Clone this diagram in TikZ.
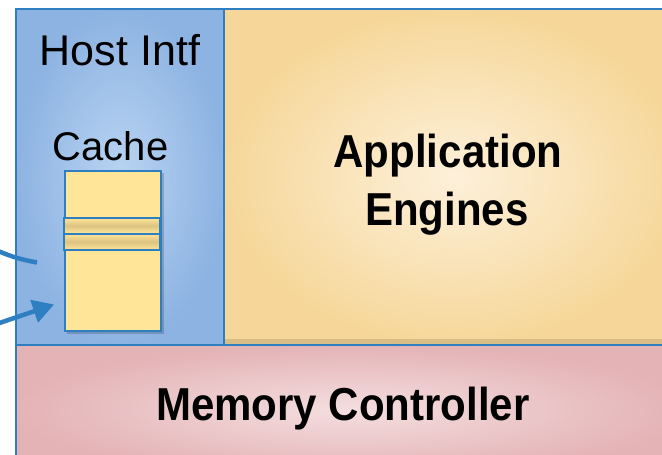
\documentclass[tikz,border=0pt]{standalone}
\usepackage{fontspec}
\setmainfont{Liberation Sans}
\usetikzlibrary{arrows.meta}
\definecolor{edge}{HTML}{2E7FC1}
\definecolor{hostout}{HTML}{8DB3E2}
\definecolor{hostin}{HTML}{B9D4F2}
\definecolor{appout}{HTML}{F6D799}
\definecolor{appin}{HTML}{FDF0DA}
\definecolor{memout}{HTML}{E4B3B6}
\definecolor{memin}{HTML}{F4DEDF}
\definecolor{cachefill}{HTML}{FFE597}
\definecolor{cachedark}{HTML}{DCC382}
\newcommand{\tallbold}[1]{\scalebox{1}[1.1]{\bfseries #1}}
\begin{document}
\begin{tikzpicture}[x=1pt,y=-1pt,
  block/.style={draw=edge, line width=2pt, anchor=north west,
    inner sep=0pt, outer sep=0pt},
  cachebox/.style={draw=edge, line width=2pt, fill=cachefill},
  band/.style={draw=edge, line width=2pt, top color=cachefill,
    bottom color=cachefill, middle color=cachedark},
  lbl/.style={anchor=base, font=\fontsize{42}{42}\selectfont},
  boldlbl/.style={anchor=base, font=\fontsize{42}{42}\selectfont},
  conn/.style={draw=edge, line width=4.5pt}]
\useasboundingbox (0,0) rectangle (662,455);
\clip (0,0) rectangle (662,455);
\fill[white] (0,0) rectangle (662,455);

% three main blocks
\node[block, minimum width=208pt, minimum height=336pt,
  inner color=hostin, outer color=hostout, shade] (host) at (16,9) {};
\node[block, minimum width=460pt, minimum height=336pt,
  inner color=appin, outer color=appout, shade] (app) at (224,9) {};
\fill[black!40!appout, opacity=0.3] (225,339) rectangle (662,344);
\node[block, minimum width=670pt, minimum height=130pt,
  inner color=memin, outer color=memout, shade] (mem) at (16,345) {};

% cache stack with its soft shadow
\fill[black, opacity=0.18] (67,173) rectangle (164,334);
\node[cachebox, anchor=north west, minimum width=96pt, minimum height=160pt,
  inner sep=0pt] (cache) at (64,170) {};
\draw[band] (64,218) rectangle (160,233.5);
\draw[band] (64,233.5) rectangle (160,250);

% labels
\node[lbl, font=\fontsize{43}{43}\selectfont] (hostlbl) at (120,65) {Host Intf};
\node[lbl, font=\fontsize{40}{40}\selectfont] (cachelbl) at (110.5,160) {Cache};
\node[boldlbl] (applbl) at (448,167) {\tallbold{Application}};
\node[boldlbl] (englbl) at (447,225) {\tallbold{Engines}};
\node[boldlbl] (memlbl) at (343,420) {\tallbold{Memory Controller}};

% incoming connectors
\coordinate (inA) at (-2,251);
\coordinate (endA) at (37,262.5);
\coordinate (inB) at (-2,323.5);
\coordinate (tipB) at (54,304.5);
\draw[conn] (inA) to[bend right=6] (endA);
\draw[conn, -{Triangle[length=21pt,width=23pt]}] (inB) -- (tipB);
\end{tikzpicture}
\end{document}
